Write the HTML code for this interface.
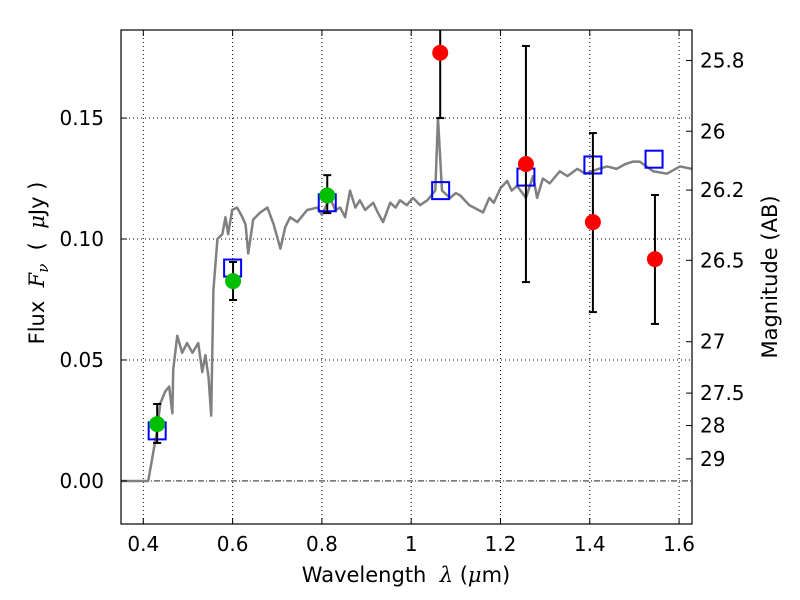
<!DOCTYPE html>
<html><head><meta charset="utf-8"><style>body{margin:0;background:#fff}svg{display:block;font-family:"DejaVu Sans","Liberation Sans",sans-serif}</style></head>
<body>
<svg id="c" width="800" height="600" viewBox="0 0 800 600" style="position:absolute;left:0;top:0"></svg>
<script>
const modelLam=[0.35,0.411,0.431,0.438,0.449,0.458,0.465,0.467,0.476,0.487,0.498,0.51,0.523,0.532,0.539,0.546,0.552,0.557,0.566,0.577,0.584,0.59,0.599,0.61,0.622,0.629,0.635,0.646,0.662,0.678,0.692,0.707,0.718,0.729,0.745,0.767,0.79,0.80,0.818,0.83,0.841,0.852,0.863,0.875,0.885,0.897,0.915,0.925,0.937,0.953,0.965,0.975,0.99,1.004,1.02,1.036,1.054,1.060,1.069,1.087,1.10,1.11,1.13,1.161,1.175,1.185,1.20,1.215,1.225,1.237,1.257,1.273,1.282,1.295,1.31,1.333,1.35,1.372,1.39,1.405,1.42,1.439,1.46,1.48,1.497,1.512,1.542,1.573,1.602,1.629];
const modelFlux=[0,0,0.021,0.032,0.037,0.039,0.028,0.046,0.060,0.053,0.057,0.053,0.057,0.045,0.052,0.043,0.027,0.079,0.100,0.102,0.109,0.102,0.112,0.113,0.109,0.106,0.094,0.108,0.111,0.113,0.106,0.096,0.105,0.109,0.107,0.112,0.113,0.110,0.117,0.112,0.113,0.109,0.120,0.113,0.116,0.112,0.115,0.111,0.107,0.115,0.113,0.116,0.114,0.117,0.114,0.116,0.120,0.150,0.120,0.117,0.119,0.118,0.114,0.111,0.117,0.115,0.121,0.124,0.120,0.122,0.117,0.126,0.117,0.125,0.123,0.128,0.126,0.129,0.127,0.128,0.129,0.130,0.129,0.131,0.132,0.132,0.128,0.127,0.130,0.129];
const greenLam=[0.431,0.601,0.812];
const greenFlux=[0.0235,0.0826,0.118];
const greenLo=[0.0157,0.0748,0.1107];
const greenHi=[0.0318,0.0905,0.1264];
const blueLam=[0.431,0.6,0.812,1.066,1.257,1.407,1.544];
const blueFlux=[0.0207,0.088,0.115,0.120,0.1256,0.1306,0.133];
const redLam=[1.065,1.257,1.407,1.546];
const redFlux=[0.177,0.131,0.107,0.0917];
const redLo=[0.150,0.0822,0.0698,0.0649];
const redHi=[0.205,0.1798,0.1438,0.1182];
const xTicks=[0.4,0.6,0.8,1.0,1.2,1.4,1.6];
const xTickLabels=["0.4","0.6","0.8","1","1.2","1.4","1.6"];
const yTicks=[0,0.05,0.10,0.15];
const yTickLabels=["0.00","0.05","0.10","0.15"];
const magTicks=[25.8,26,26.2,26.5,27,27.5,28,29];

const L=121,R=692,T=30,B=524;
const X0=0.35,X1=1.629,Y0=-0.0178,Y1=0.1864;
const sx=v=>L+(v-X0)/(X1-X0)*(R-L);
const sy=v=>B-(v-Y0)/(Y1-Y0)*(B-T);
const svg=document.getElementById('c');
const NS='http://www.w3.org/2000/svg';
function mk(tag,attrs,parent){const e=document.createElementNS(NS,tag);for(const k in attrs)e.setAttribute(k,attrs[k]);(parent||svg).appendChild(e);return e;}

const grid=mk('g',{});


xTicks.forEach(v=>{mk('line',{x1:sx(v),x2:sx(v),y1:T,y2:B,stroke:'#000','stroke-width':1,'stroke-dasharray':'1,3'},grid);});
yTicks.forEach(v=>{if(v!==0)mk('line',{x1:L,x2:R,y1:sy(v),y2:sy(v),stroke:'#000','stroke-width':1,'stroke-dasharray':'1,3'},grid);});
const zl=mk('line',{x1:L,x2:R,y1:sy(0),y2:sy(0),stroke:'#000','stroke-width':0.8,'stroke-dasharray':'6,2,1,2'});



const clip=mk('clipPath',{id:'pc'});mk('rect',{x:L,y:T,width:R-L,height:B-T},clip);
const plot=mk('g',{'clip-path':'url(#pc)'});
const model=mk('polyline',{points:modelLam.map((l,i)=>sx(l)+','+sy(modelFlux[i])).join(' '),fill:'none',stroke:'#808080','stroke-width':2.5,'stroke-linejoin':'round'},plot);



function errbar(l,lo,hi,name){const g=mk('g',{stroke:'#000','stroke-width':2},plot);


const x=sx(l);mk('line',{x1:x,x2:x,y1:sy(lo),y2:sy(hi)},g);mk('line',{x1:x-4,x2:x+4,y1:sy(lo),y2:sy(lo)},g);mk('line',{x1:x-4,x2:x+4,y1:sy(hi),y2:sy(hi)},g);}
blueLam.forEach((l,i)=>{const r=mk('rect',{x:sx(l)-8.5,y:sy(blueFlux[i])-8.5,width:17,height:17,fill:'none',stroke:'#0000ff','stroke-width':2},plot);

});
greenLam.forEach((l,i)=>{errbar(l,greenLo[i],greenHi[i],'green-errorbar');const c=mk('circle',{cx:sx(l),cy:sy(greenFlux[i]),r:8,fill:'#00bf00'},plot);

});
redLam.forEach((l,i)=>{errbar(l,redLo[i],redHi[i],'red-errorbar');const c=mk('circle',{cx:sx(l),cy:sy(redFlux[i]),r:8,fill:'#ff0000'},plot);

});

const frame=mk('rect',{x:L,y:T,width:R-L,height:B-T,fill:'none',stroke:'#000','stroke-width':1.2});



xTicks.forEach((v,i)=>{const x=sx(v);mk('line',{x1:x,x2:x,y1:B,y2:B-6,stroke:'#000'});mk('line',{x1:x,x2:x,y1:T,y2:T+6,stroke:'#000'});
const t=mk('text',{x:x,y:B+27,'text-anchor':'middle','font-size':20});t.textContent=xTickLabels[i];

});
yTicks.forEach((v,i)=>{const y=sy(v);mk('line',{x1:L,x2:L+6,y1:y,y2:y,stroke:'#000'});
const t=mk('text',{x:L-17,y:y+7,'text-anchor':'end','font-size':20});t.textContent=yTickLabels[i];

});
magTicks.forEach(m=>{const y=sy(Math.pow(10,(23.9-m)/2.5));mk('line',{x1:R,x2:R-6,y1:y,y2:y,stroke:'#000'});
const t=mk('text',{x:R+8,y:y+7,'font-size':20});t.textContent=String(m);

});
</script>
<svg width="800" height="600" style="position:absolute;left:0;top:0;font-family:'DejaVu Sans',sans-serif">
<text x="406" y="582" text-anchor="middle" font-size="21" xml:space="preserve">Wavelength  <tspan font-style="italic" font-family="DejaVu Serif, serif">λ</tspan> (<tspan font-style="italic" font-family="DejaVu Serif, serif">μ</tspan>m)</text>
<text transform="translate(44,263) rotate(-90)" text-anchor="middle" font-size="21" xml:space="preserve">Flux  <tspan font-style="italic" font-family="DejaVu Serif, serif">F<tspan font-size="15" dy="4">ν</tspan></tspan><tspan dy="-4">  (  </tspan><tspan font-style="italic" font-family="DejaVu Serif, serif">μ</tspan>Jy )</text>
<text transform="translate(777,277) rotate(-90)" text-anchor="middle" font-size="21">Magnitude (AB)</text>
</svg>
</body></html>
